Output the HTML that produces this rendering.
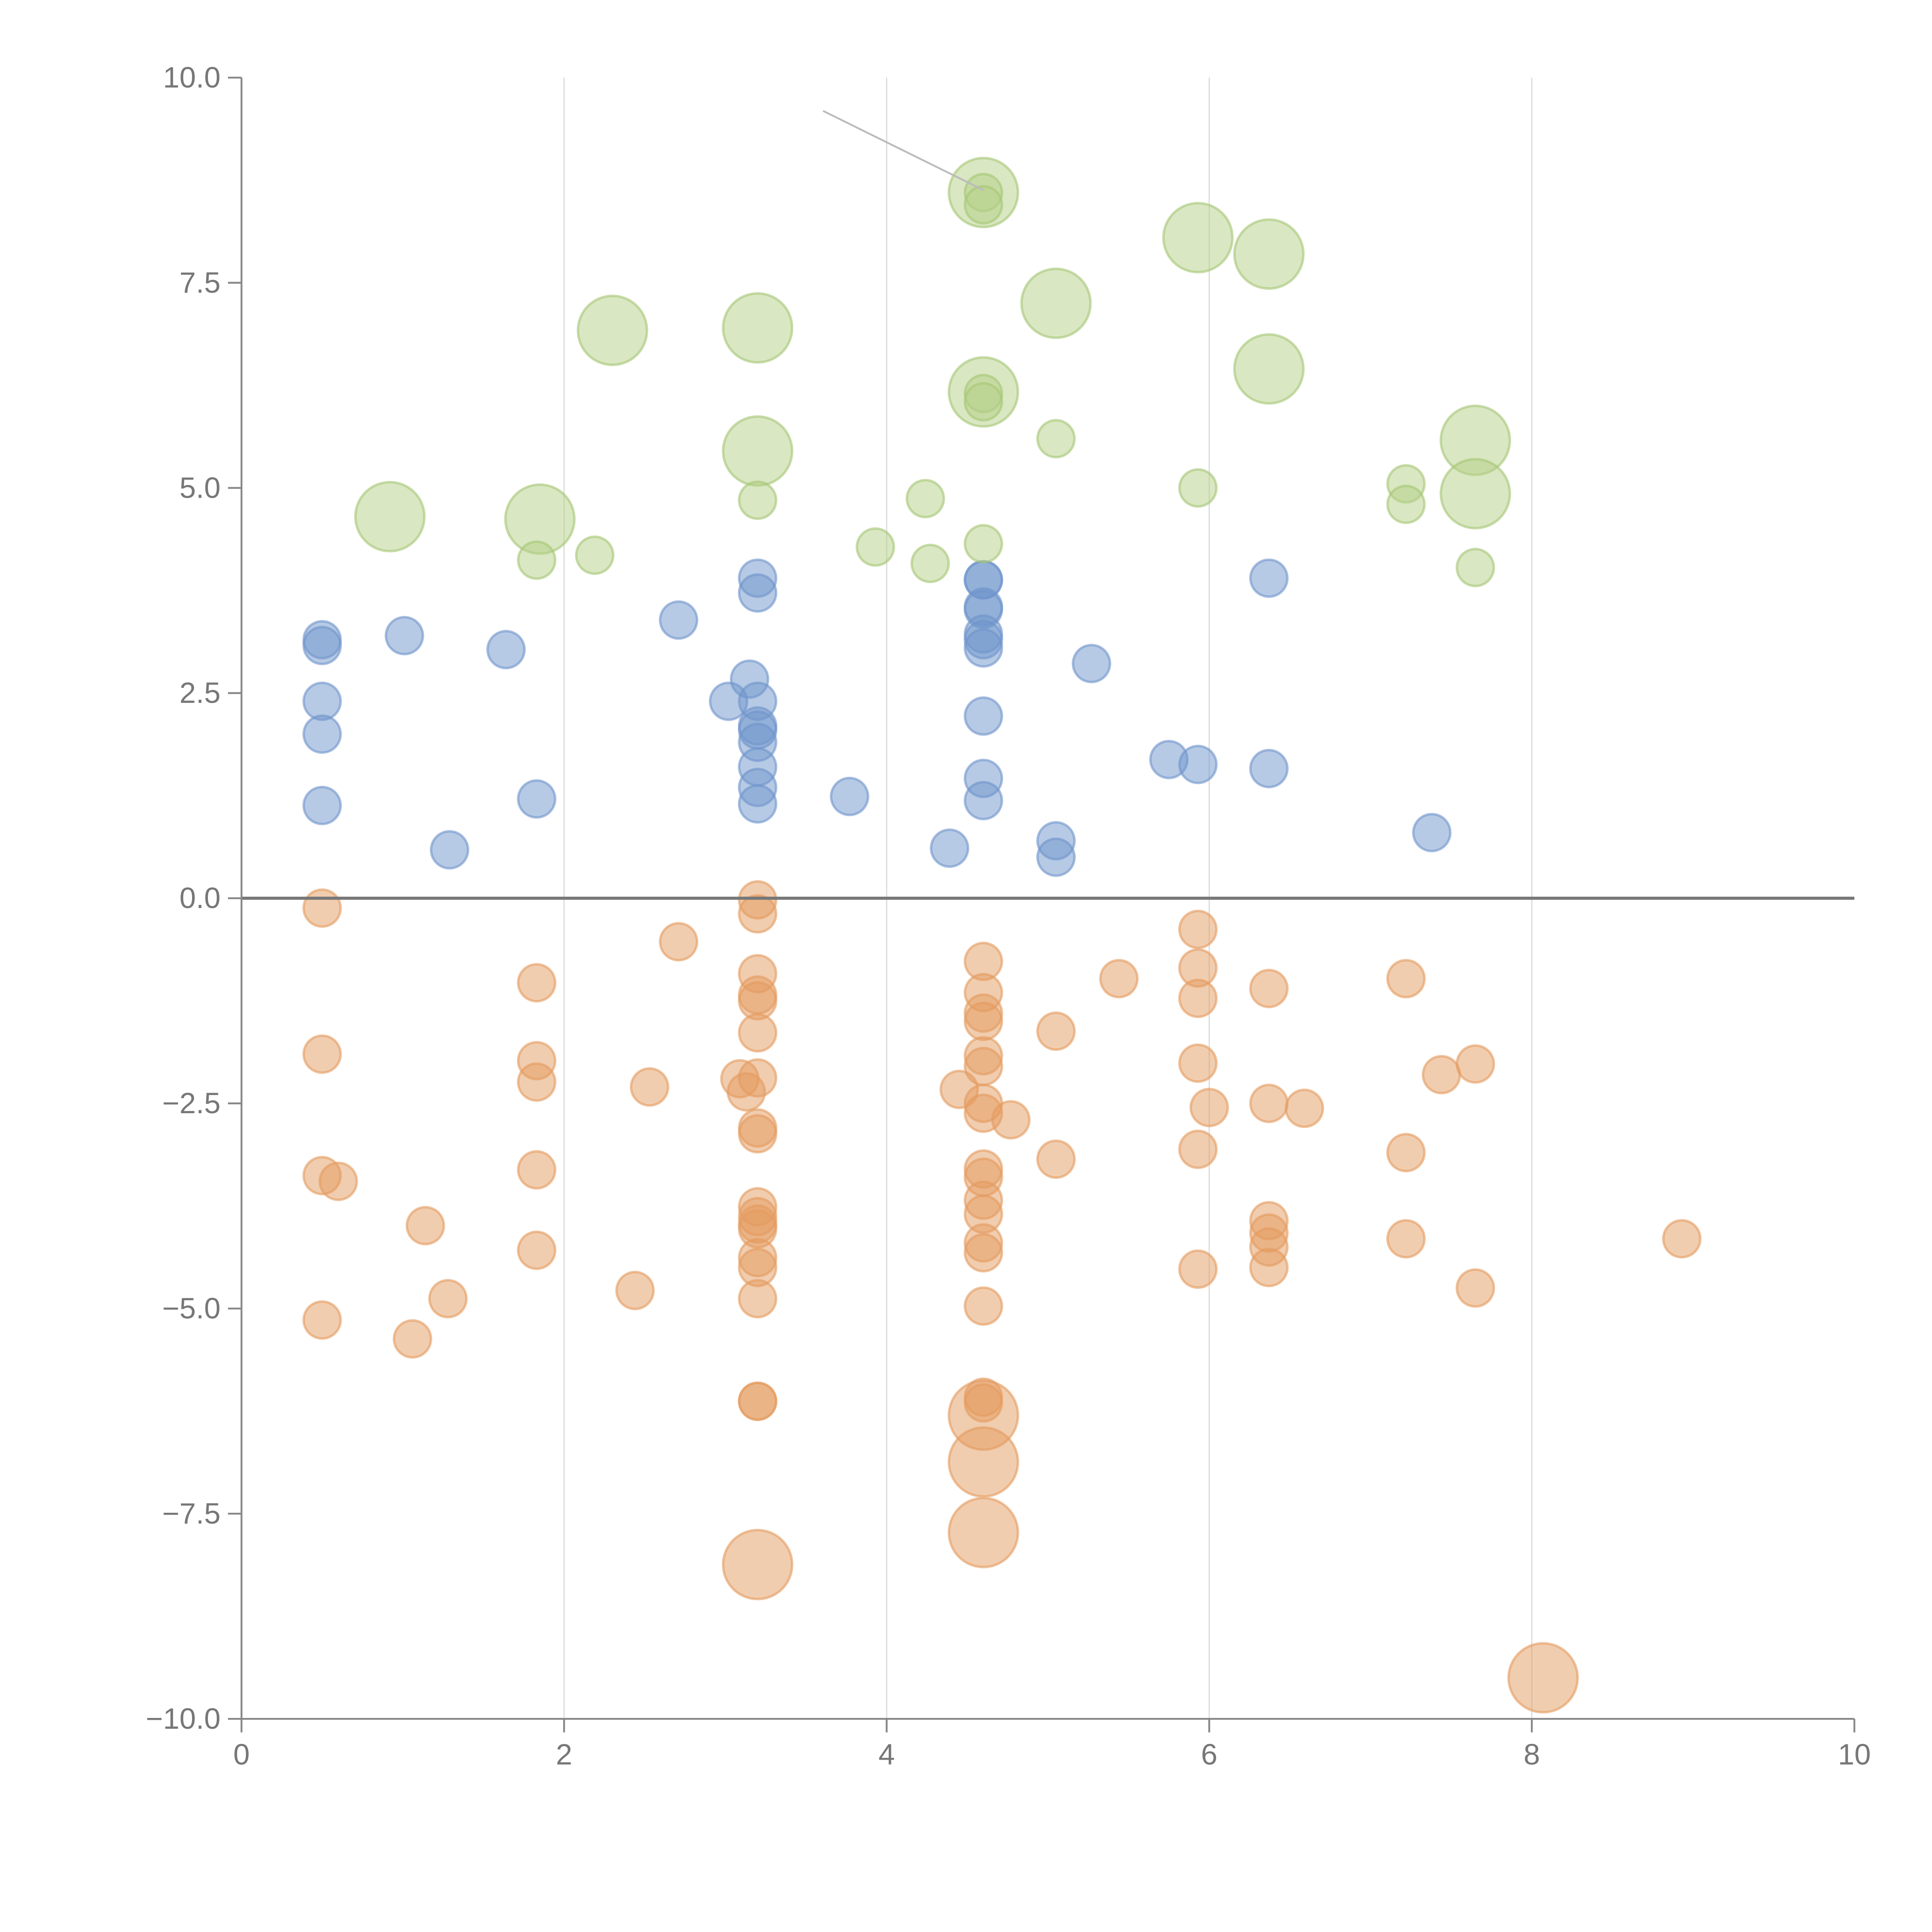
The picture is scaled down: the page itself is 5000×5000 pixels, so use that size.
<!DOCTYPE html>
<html><head><meta charset="utf-8"><style>html,body{margin:0;padding:0;background:#fff}svg{display:block}</style></head>
<body>
<svg id="chart" width="5000" height="5000" viewBox="0 0 1568 1568" xmlns="http://www.w3.org/2000/svg" font-family="Liberation Sans, sans-serif">
<g id="grid"></g>
<g id="marks"></g>
<g id="axes"></g>
</svg>
<script>
const greenLarge=[[0.92,4.65],[1.85,4.62],[2.3,6.92],[3.2,6.95],[3.2,5.45],[4.6,8.6],[4.6,6.17],[5.05,7.25],[5.93,8.05],[6.37,7.85],[6.37,6.45],[7.65,5.58],[7.65,4.93]];
const greenSmall=[[1.83,4.12],[2.19,4.18],[3.2,4.85],[3.93,4.28],[4.24,4.87],[4.27,4.08],[4.6,4.32],[4.6,6.15],[4.6,6.05],[4.6,8.6],[4.6,8.45],[5.05,5.6],[5.93,5.0],[7.22,5.05],[7.22,4.8],[7.65,4.03]];
const bluePts=[[0.5,3.15],[0.5,3.08],[0.5,2.4],[0.5,2.0],[0.5,1.13],[1.01,3.2],[1.29,0.59],[1.64,3.03],[1.83,1.21],[2.71,3.39],[3.02,2.4],[3.15,2.67],[3.2,3.9],[3.2,3.72],[3.2,2.4],[3.2,2.1],[3.2,2.05],[3.2,1.9],[3.2,1.6],[3.2,1.35],[3.2,1.15],[3.77,1.24],[4.39,0.61],[4.6,3.88],[4.6,3.88],[4.6,3.55],[4.6,3.52],[4.6,3.22],[4.6,3.15],[4.6,3.05],[4.6,2.22],[4.6,1.46],[4.6,1.19],[5.05,0.7],[5.05,0.5],[5.27,2.86],[5.75,1.69],[5.93,1.63],[6.37,3.9],[6.37,1.58],[7.38,0.8]];
const orangeSmall=[[0.5,-0.12],[0.5,-1.9],[0.5,-3.38],[0.6,-3.45],[0.5,-5.14],[1.06,-5.37],[1.14,-3.99],[1.28,-4.88],[1.83,-1.03],[1.83,-1.98],[1.83,-2.24],[1.83,-3.31],[1.83,-4.29],[2.44,-4.78],[2.53,-2.3],[2.71,-0.53],[3.09,-2.2],[3.13,-2.36],[3.2,-0.02],[3.2,-0.19],[3.2,-0.92],[3.2,-1.18],[3.2,-1.25],[3.2,-1.64],[3.2,-2.19],[3.2,-2.8],[3.2,-2.87],[3.2,-3.76],[3.2,-3.88],[3.2,-3.97],[3.2,-4.03],[3.2,-4.38],[3.2,-4.5],[3.2,-4.88],[3.2,-6.13],[3.2,-6.13],[4.45,-2.33],[4.6,-0.77],[4.6,-1.15],[4.6,-1.4],[4.6,-1.5],[4.6,-1.92],[4.6,-2.05],[4.6,-2.5],[4.6,-2.62],[4.6,-3.3],[4.6,-3.4],[4.6,-3.68],[4.6,-3.85],[4.6,-4.2],[4.6,-4.32],[4.6,-4.97],[4.6,-6.08],[4.6,-6.15],[4.77,-2.7],[5.05,-1.62],[5.05,-3.18],[5.44,-0.98],[5.93,-0.38],[5.93,-0.85],[5.93,-1.22],[5.93,-2.01],[5.93,-3.06],[5.93,-4.52],[6.0,-2.55],[6.37,-1.1],[6.37,-2.5],[6.37,-3.93],[6.37,-4.08],[6.37,-4.25],[6.37,-4.5],[6.59,-2.56],[7.22,-0.98],[7.22,-3.1],[7.22,-4.15],[7.44,-2.15],[7.65,-2.02],[7.65,-4.75],[8.93,-4.15]];
const orangeLarge=[[3.2,-8.12],[4.6,-6.3],[4.6,-6.87],[4.6,-7.73],[8.07,-9.5]];
const xTicks=[0,2,4,6,8,10];
const yTicks=[10,7.5,5,2.5,0,-2.5,-5,-7.5,-10];
const yTickLabels=["10.0","7.5","5.0","2.5","0.0","\u22122.5","\u22125.0","\u22127.5","\u221210.0"];

const X0=196,X1=1505,Y0=1395,Y1=63;
const sx=v=>X0+(v-0)/10*(X1-X0);
const sy=v=>Y0-(v+10)/20*(Y0-Y1);
const NS="http://www.w3.org/2000/svg";
function mk(tag,attrs,parent){const e=document.createElementNS(NS,tag);for(const k in attrs)e.setAttribute(k,attrs[k]);parent.appendChild(e);return e;}
const grid=document.getElementById('grid'),marks=document.getElementById('marks'),axes=document.getElementById('axes');

xTicks.forEach(t=>{if(t>0&&t<10){const l=mk('line',{x1:sx(t),x2:sx(t),y1:Y1,y2:Y0,stroke:'#dcdcdc','stroke-width':1},grid);

}});

function drawSet(arr,r,fill,stroke,name){arr.forEach(p=>{const c=mk('circle',{cx:sx(p[0]),cy:sy(p[1]),r:r,fill:fill,'fill-opacity':0.5,stroke:stroke,'stroke-opacity':0.6,'stroke-width':2},marks);

});}
drawSet(bluePts,15,'#6f95cc','#6f95cc','bubble-blue');
drawSet(orangeSmall,15,'#e49b5f','#e49b5f','bubble-orange');
drawSet(orangeLarge,28,'#e49b5f','#e49b5f','bubble-orange-large');
drawSet(greenLarge,28,'#b3cf86','#a5c775','bubble-green-large');
drawSet(greenSmall,15,'#b3cf86','#a5c775','bubble-green');

const ann=mk('line',{x1:668,y1:90,x2:sx(4.6),y2:sy(8.6)-2,stroke:'#bbb','stroke-width':1.5},marks);



const zl=mk('line',{x1:X0,x2:X1,y1:sy(0),y2:sy(0),stroke:'#777','stroke-width':2.5},axes);


const ya=mk('line',{x1:X0,x2:X0,y1:Y1,y2:Y0,stroke:'#888','stroke-width':1.5},axes);


const xa=mk('line',{x1:X0,x2:X1,y1:Y0,y2:Y0,stroke:'#888','stroke-width':1.5},axes);


yTicks.forEach((t,i)=>{mk('line',{x1:X0-11,x2:X0,y1:sy(t),y2:sy(t),stroke:'#888','stroke-width':1.5},axes);
const tx=mk('text',{x:X0-17,y:sy(t)+8,'text-anchor':'end','font-size':24,fill:'#777'},axes);tx.textContent=yTickLabels[i];

});
xTicks.forEach(t=>{mk('line',{x1:sx(t),x2:sx(t),y1:Y0,y2:Y0+11,stroke:'#888','stroke-width':1.5},axes);
const tx=mk('text',{x:sx(t),y:Y0+37,'text-anchor':'middle','font-size':24,fill:'#777'},axes);tx.textContent=String(t);

});
</script>
</body></html>
